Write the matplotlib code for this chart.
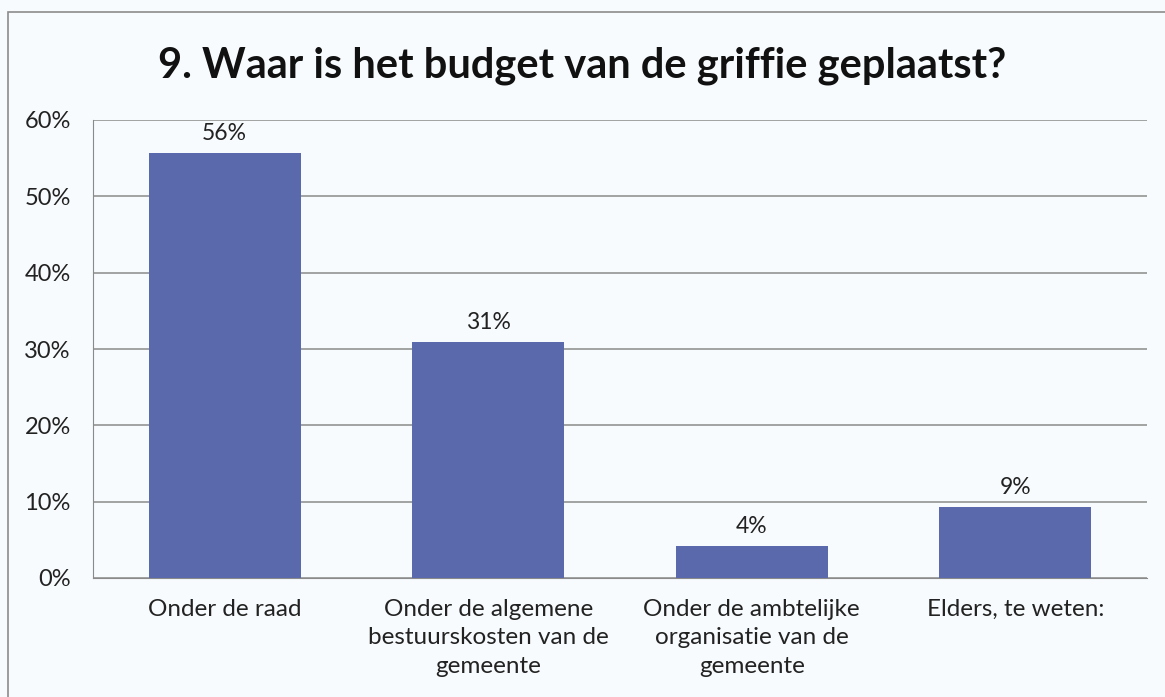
import matplotlib.pyplot as plt
from matplotlib.patches import Rectangle

# Gegevens
categorieen = ["Onder de raad",
               "Onder de algemene\nbestuurskosten van de\ngemeente",
               "Onder de ambtelijke\norganisatie van de\ngemeente",
               "Elders, te weten:"]
waarden = [0.557, 0.309, 0.042, 0.093]
labels = ["56%", "31%", "4%", "9%"]
yticks = [0, 0.1, 0.2, 0.3, 0.4, 0.5, 0.6]

plt.rcParams['font.family'] = ['Lato', 'DejaVu Sans']

fig = plt.figure(figsize=(11.65, 6.97), dpi=100)
fig.patch.set_facecolor('#f8fbfd')

# Rahmen um das Diagramm
fig.add_artist(Rectangle((8 / 1165, -0.01), 1.02, 1 - 12 / 697 + 0.01,
                         transform=fig.transFigure, fill=False,
                         edgecolor='#8c8c8c', linewidth=1.2))

ax = fig.add_axes([93 / 1165, 1 - 578 / 697, (1147 - 93) / 1165, (578 - 120) / 697])
ax.set_facecolor('#f8fbfd')

x = range(len(categorieen))
bars = ax.bar(x, waarden, width=0.577, color='#5a69ac', zorder=3)
for b, lab in zip(bars, labels):
    ax.text(b.get_x() + b.get_width() / 2, b.get_height() + 0.012, lab,
            ha='center', va='bottom', fontsize=16.5, color='#222222')

ax.set_xlim(-0.5, 3.5)
ax.set_ylim(0, 0.6)
ax.set_yticks(yticks)
ax.set_yticklabels([f"{int(round(t * 100))}%" for t in yticks], fontsize=17, color='#222222')
ax.set_xticks(list(x))
ax.set_xticklabels(categorieen, fontsize=17.5, color='#222222', linespacing=1.45, va='top')
ax.tick_params(axis='both', length=0)
ax.tick_params(axis='y', pad=16)
ax.tick_params(axis='x', pad=15)
ax.yaxis.grid(True, color='#8a8a8a', linewidth=1.1, zorder=0)
for s in ['top', 'right']:
    ax.spines[s].set_visible(False)
ax.spines['left'].set_color('#8a8a8a')
ax.spines['bottom'].set_color('#8a8a8a')

fig.text(0.5, 1 - 66 / 697, "9. Waar is het budget van de griffie geplaatst?",
         ha='center', va='center', fontsize=30, fontweight='bold', color='#111111')

fig.savefig("out.png", dpi=100, facecolor=fig.get_facecolor())
